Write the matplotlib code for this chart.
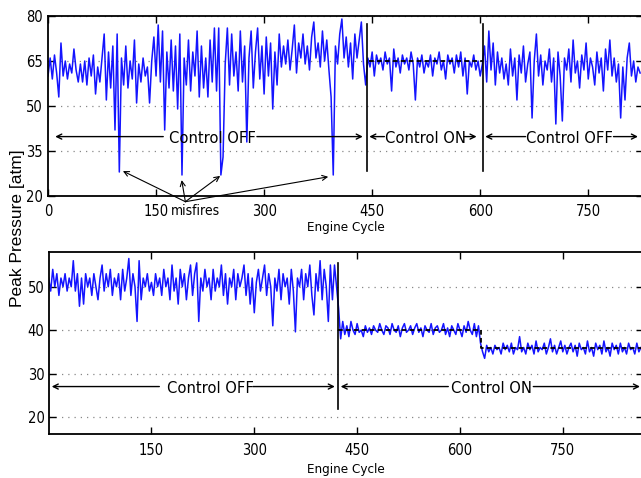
import numpy as np
import matplotlib
matplotlib.use("Agg")
import matplotlib.pyplot as plt
from matplotlib import font_manager as fm

# ---------------- data (one value every 3 cycles) ----------------
cycle_step = 3

top_pressure = [
    60, 66, 59, 67, 61, 53, 71, 60, 65, 59, 64, 61, 69, 62, 58,
    64, 58, 65, 57, 66, 60, 67, 54, 63, 58, 66, 74, 52, 68, 56, 70, 42,
    74, 28, 66, 57, 70, 56, 65, 59, 72, 51, 64, 58, 66, 60, 63, 51, 65,
    73, 60, 77, 58, 75, 42, 68, 56, 72, 55, 70, 49, 74, 27,
    66, 57, 72, 55, 68, 60, 75, 53, 70, 56, 66, 53, 72, 58, 76, 55, 76, 27,
    33, 64, 76, 57, 74, 60, 68, 55, 75, 58, 70, 38, 66,
    75, 56, 68, 76, 59, 70, 54, 73, 60, 71, 49, 68, 57, 74, 63, 70,
    64, 72, 62, 69, 77, 61, 71, 66, 74, 64, 70, 62, 73, 78, 66, 71, 63, 75, 65, 72, 62, 53, 27,
    70, 64, 74, 79, 66, 73, 63, 71, 59, 74, 66, 72, 78, 64, 57,
    66, 63, 68, 60, 67, 64, 66, 62, 68, 64, 66, 55, 69, 63, 66, 61, 67, 64, 66, 62,
    68, 64, 52, 66, 63, 67, 61, 65, 63, 67, 60, 66, 64, 68, 62, 65, 59, 67, 64, 66,
    61, 67, 63, 68, 60, 66, 54, 65, 63, 67, 62, 65, 60, 64,
    70, 58, 75, 62, 71, 57, 68, 61, 66, 59, 64, 57, 69, 60, 66, 52, 67, 61, 70, 58,
    64, 68, 46, 65, 74, 60, 67, 57, 65, 62, 69, 58, 66, 44, 68, 60, 45, 66, 62, 69,
    58, 72, 61, 65, 56, 67, 62, 71, 59, 66, 63, 57, 68, 61, 66, 55, 69, 62, 72, 60,
    66, 58, 64, 46, 63, 52, 66, 71, 60, 65, 58, 63, 61,
]

bottom_pressure = [
    52, 49, 54, 50, 53, 48, 52, 50, 53, 49, 52, 50, 56, 49, 53, 45.5, 52, 46, 53, 50,
    52, 48, 53, 50, 47, 52, 55, 49, 53, 50, 54, 48, 52, 50, 53, 47, 54, 49, 52, 56.5,
    48, 53, 50, 42, 56, 47, 52, 50, 53, 49, 51, 48, 53, 50, 52, 48, 54, 50, 52, 47,
    55, 49, 52, 46, 54, 50, 53, 47, 52, 55, 48, 53, 55.5, 42, 52, 49, 54, 50, 52, 47,
    54, 49, 52, 50, 55, 48, 53, 46, 52, 50, 54, 47, 53, 50, 52, 55, 48, 53, 46, 52,
    44, 51, 54, 49, 52, 55, 48, 53, 50, 41, 52, 49, 54, 47, 53, 50, 52, 46, 54, 49,
    39.6, 52, 50, 54, 47, 53, 50, 55, 48, 43.5, 53, 49, 56, 47, 54, 50, 42, 55, 47, 55,
    50,
    45, 38, 42, 39, 41, 38.5, 42, 40, 39, 41.5, 39.5, 40, 38.5, 41, 39.5, 40.5, 39, 41, 40,
    39.5, 41.5, 40, 39, 41, 40.5, 39, 41.5, 40, 39.5, 41, 38.5, 40.5, 41.5, 39.5, 40, 41,
    39, 40.5, 41.5, 39.5, 40.5, 38.5, 41, 40, 39.5, 41.5, 39, 40.5, 41, 39.5, 40, 41.5,
    39, 40.5, 38.5, 41, 40, 39, 41.5, 40, 38.5, 41, 39.5, 42, 40, 39, 41.5, 38.5, 41,
    37, 35, 33.5, 36.5, 35, 36, 34.5, 36.5, 35.5, 36, 34.5, 37, 35.5, 36.5, 35, 37, 34.5,
    36, 35.5, 38.5, 35, 36, 34.5, 37, 35.5, 36.5, 34.5, 37.5, 35, 36, 35.5, 37, 34.5, 36,
    38, 35, 36.5, 34.5, 36, 37.5, 35, 36.5, 34.5, 36, 37, 35, 36.5, 34, 37, 35.5, 36,
    34.5, 37.5, 35, 36, 34, 37, 35.5, 36.5, 34.5, 37.5, 35, 36, 34, 37, 35.5, 36.5, 34.5,
    37, 35, 36, 34.5, 37, 35.5, 36, 34.5, 37, 35, 36,
]

# setpoints / control switching cycles
top_setpoint = 65
top_switch = [443, 604]
top_sp_range = [445, 604]
bottom_switch = 422
bottom_setpoint_levels = [40, 40, 35.8, 35.8]
bottom_setpoint_cycles = [422, 630, 630, 866]

top_xticks = [0, 150, 300, 450, 600, 750]
top_yticks = [20, 35, 50, 65, 80]
bottom_xticks = [150, 300, 450, 600, 750]
bottom_yticks = [20, 30, 40, 50]

misfire_tips = [(104, 28.3), (185.6, 25.3), (239, 26.7), (389, 26.4)]
misfire_origin = (190.7, 18.1)

# ---------------- font: prefer a narrow sans if one is installed ----------------
narrow = None
for f in fm.fontManager.ttflist:
    nm = f.name.lower()
    if (('narrow' in nm or 'condensed' in nm or f.stretch in ('condensed', 'semi-condensed'))
            and f.style == 'normal' and f.weight in (400, 'normal', 'regular')):
        narrow = f
        break

if narrow is not None:
    fp_base = dict(fname=narrow.fname)
    tick_fs, txt_fs, lab_fs, mis_fs = 10.5, 11.8, 9.6, 10
else:
    fp_base = dict(family='Liberation Sans')
    tick_fs, txt_fs, lab_fs, mis_fs = 10, 11.5, 9.5, 9.5


def FP(size):
    return fm.FontProperties(size=size, **fp_base)


# ---------------- figure ----------------
fig = plt.figure(figsize=(6.41, 4.78), dpi=100)
ax1 = fig.add_axes([48 / 641, 1 - 196 / 478, 595 / 641, 180 / 478])
ax2 = fig.add_axes([49.3 / 641, 1 - 434.3 / 478, 593.7 / 641, 182.3 / 478])

blue = '#1414ff'

x_top = np.arange(len(top_pressure)) * cycle_step
x_bot = np.arange(len(bottom_pressure)) * cycle_step

ax1.plot(x_top, top_pressure, color=blue, lw=1.1, zorder=2)
ax2.plot(x_bot, bottom_pressure, color=blue, lw=1.1, zorder=2)

ax1.set_xlim(0, 826)
ax1.set_ylim(20, 80)
ax2.set_xlim(1, 867)
ax2.set_ylim(16, 58)

for ax, xt, yt in [(ax1, top_xticks, top_yticks), (ax2, bottom_xticks, bottom_yticks)]:
    ax.set_xticks(xt)
    ax.set_yticks(yt)
    ax.tick_params(direction='in', length=5, width=1, top=True, right=True, pad=6)
    ax.tick_params(axis='y', pad=3.5)
    for lbl in ax.get_xticklabels() + ax.get_yticklabels():
        lbl.set_fontproperties(FP(tick_fs))
    ax.yaxis.grid(True, linestyle=(0, (1, 4)), color='#888888', lw=0.9)
    for s in ax.spines.values():
        s.set_linewidth(1.3)
    ax.set_axisbelow(True)

ax1.set_xlabel('Engine Cycle', fontproperties=FP(lab_fs), labelpad=1.5)
ax2.set_xlabel('Engine Cycle', fontproperties=FP(lab_fs), labelpad=4)
fig.text(0.028, 0.523, 'Peak Pressure [atm]', rotation=90, ha='center', va='center',
         fontsize=12.5, family=['Liberation Sans', 'DejaVu Sans'])

# setpoint & switch lines
ax1.plot(top_sp_range, [top_setpoint, top_setpoint], color='k', lw=1.3,
         dashes=(2.6, 1.8), zorder=3)
for c in top_switch:
    ax1.plot([c, c], [28.2, 77.2], color='k', lw=1.2, zorder=3)
ax2.plot(bottom_setpoint_cycles, bottom_setpoint_levels, color='k', lw=1.3,
         dashes=(2.6, 1.8), zorder=3)
ax2.plot([bottom_switch, bottom_switch], [21.8, 55.4], color='k', lw=1.2, zorder=3)

arrow_kw = dict(arrowstyle='->', color='k', lw=1.0, shrinkA=0, shrinkB=0,
                mutation_scale=9)


def span(ax, y, label, xc, left, right):
    (l0, l1), (r0, r1) = left, right
    ax.annotate('', xy=(l1, y), xytext=(l0, y), arrowprops=arrow_kw, zorder=4)
    ax.annotate('', xy=(r1, y), xytext=(r0, y), arrowprops=arrow_kw, zorder=4)
    ax.text(xc, y, label, ha='center', va='center_baseline',
            fontproperties=FP(txt_fs), zorder=4)


span(ax1, 39.8, 'Control OFF', 228, (160, 10), (290, 437))
span(ax1, 39.8, 'Control ON', 523.5, (467, 446), (578, 595))
span(ax1, 39.8, 'Control OFF', 723.5, (663, 607), (785, 819))
span(ax2, 27.0, 'Control OFF', 236, (161.5, 4.5), (298, 417.5))
span(ax2, 27.0, 'Control ON', 646.7, (583, 426), (707, 862.6))

# misfires annotation
for tip in misfire_tips:
    ax1.annotate('', xy=tip, xytext=misfire_origin, annotation_clip=False,
                 arrowprops=dict(arrowstyle='->', color='k', lw=0.8, shrinkA=0,
                                 shrinkB=0, mutation_scale=9))
ax1.annotate('misfires', xy=(171, 0), xycoords=('data', 'axes fraction'),
             xytext=(0, -6), textcoords='offset points', ha='left', va='top',
             fontproperties=FP(mis_fs))

fig.savefig('out.png', dpi=100)
